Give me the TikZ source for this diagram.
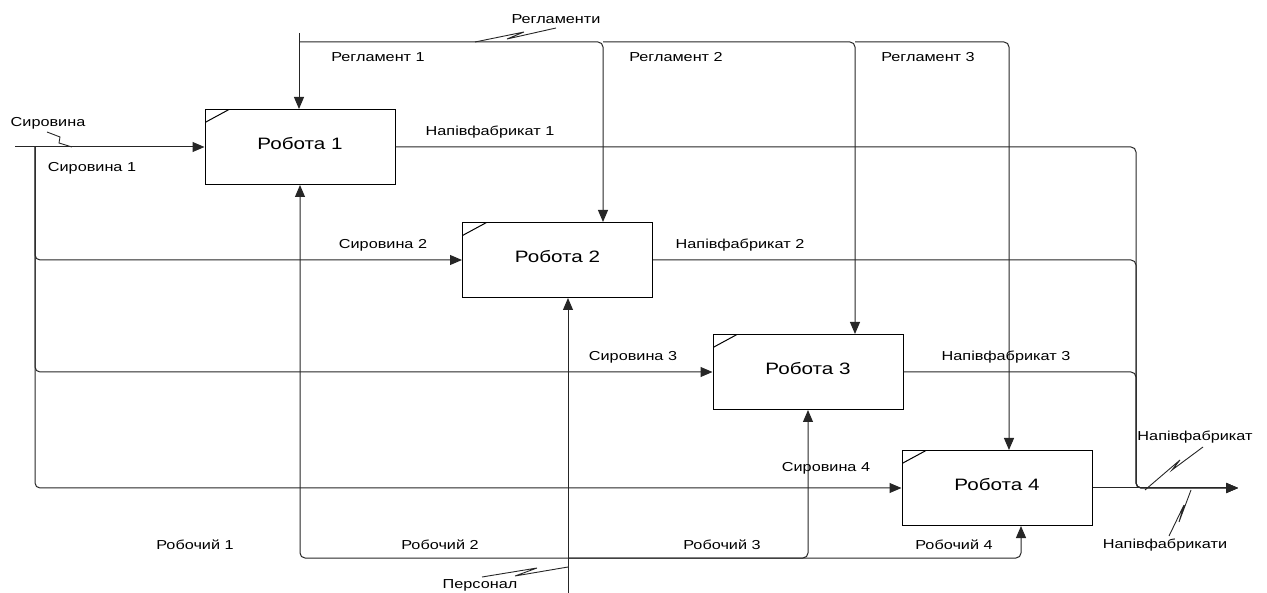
\documentclass[tikz,border=0pt]{standalone}
\usepackage{fontspec}
\setmainfont{Liberation Sans}[FakeStretch=1.25]
\usetikzlibrary{calc, arrows.meta}

\begin{document}
\begin{tikzpicture}[x=1pt, y=-1pt,
  func/.style={draw, line width=1pt, minimum width=190pt, minimum height=75pt, inner sep=0pt,
    font=\fontsize{16.5}{18}\selectfont,
    path picture={\draw ([yshift=-13pt]path picture bounding box.north west) -- ([xshift=24pt]path picture bounding box.north west);}},
  flow/.style={draw=black!85, line width=1pt, rounded corners=5pt},
  arr/.style={flow, -{Triangle[length=12pt, width=10pt]}},
  lbl/.style={font=\fontsize{13}{15}\selectfont},
  tilde/.style={draw=black!85, line width=0.9pt}]

\useasboundingbox (0,0) rectangle (1267,593);

% Functions
\node[func] (b1) at (300,147) {\raisebox{8pt}{Робота 1}};
\node[func] (b2) at (557.5,260) {\raisebox{8pt}{Робота 2}};
\node[func] (b3) at (808,372) {\raisebox{8pt}{Робота 3}};
\node[func] (b4) at (997,488) {\raisebox{8pt}{Робота 4}};

% Junction points
\coordinate (regin) at (299,33);
\coordinate (reg) at (299,42);
\coordinate (c2) at (603,42);
\coordinate (c3) at (855,42);
\coordinate (c4) at (1009,42);
\coordinate (sin) at (15,147);
\coordinate (sbr) at (35,147);
\coordinate (obr) at (1136,488);
\coordinate (oout) at (1238,488);
\coordinate (pin) at (568,593);
\coordinate (m) at (568,558);
\coordinate (m4) at (1021,558);

% Controls
\draw[arr] (regin) -- (regin |- b1.north);
\draw[arr] (reg) -- (c2) -- (c2 |- b2.north);
\draw[arr] (c2) -- (c3) -- (c3 |- b3.north);
\draw[arr] (c3) -- (c4) -- (c4 |- b4.north);

% Inputs
\draw[arr] (sin) -- (sin -| b1.west);
\draw[arr] (sbr) -- (sbr |- b2.west) -- (b2.west);
\draw[arr] (sbr) -- (sbr |- b3.west) -- (b3.west);
\draw[arr] (sbr) -- (sbr |- b4.west) -- (b4.west);

% Outputs
\draw[arr] (b1.east) -- (b1.east -| obr) -- (obr) -- (oout);
\draw[arr] (b2.east) -- (b2.east -| obr) -- (obr) -- (oout);
\draw[arr] (b3.east) -- (b3.east -| obr) -- (obr) -- (oout);
\draw[arr] (b4.east) -- (oout);

% Mechanisms
\draw[arr] (pin) -- (pin |- b2.south);
\draw[arr] (m) -- (m -| b1.south) -- (b1.south);
\draw[arr] (m) -- (m -| b3.south) -- (b3.south);
\draw[arr] (m) -- (m4) -- (m4 |- b4.south);

% Tildes
\coordinate (t1) at (475,42);
\draw[tilde] (t1) -- ++(49,-10) -- ++(-17,7) -- ++(49,-11);
\coordinate (t2) at (72,147);
\draw[tilde] (t2) -- ++(-13,-4) -- ++(1,-6) -- ++(-13,-5);
\coordinate (t3) at (568,567);
\draw[tilde] (t3) -- ++(-53,9) -- ++(22,-8) -- ++(-55,9);
\coordinate (t4) at (1145,490);
\draw[tilde] (t4) -- ++(35,-30) -- ++(-8,10) -- ++(31,-23);
\coordinate (t5) at (1191,490);
\draw[tilde] (t5) -- ++(-12,32) -- ++(5,-17) -- ++(-15,31);

% Labels
\node[lbl] (lreg) at (556,19) {Регламенти};
\node[lbl] (lreg1) at (378,57) {Регламент 1};
\node[lbl] (lreg2) at (676,57) {Регламент 2};
\node[lbl] (lreg3) at (928,57) {Регламент 3};
\node[lbl] (lsir) at (48,123) {Сировина};
\node[lbl] (lsir1) at (92,168) {Сировина 1};
\node[lbl] (lsir2) at (383,245) {Сировина 2};
\node[lbl] (lsir3) at (633,357) {Сировина 3};
\node[lbl] (lsir4) at (826,468) {Сировина 4};
\node[lbl] (lnap1) at (490,132) {Напівфабрикат 1};
\node[lbl] (lnap2) at (740,245) {Напівфабрикат 2};
\node[lbl] (lnap3) at (1006,357) {Напівфабрикат 3};
\node[lbl] (lnap) at (1195,437) {Напівфабрикат};
\node[lbl] (lnaps) at (1165,545) {Напівфабрикати};
\node[lbl] (lrob1) at (195,545) {Робочий 1};
\node[lbl] (lrob2) at (440,545) {Робочий 2};
\node[lbl] (lrob3) at (722,545) {Робочий 3};
\node[lbl] (lrob4) at (954,545) {Робочий 4};
\node[lbl] (lpers) at (480,585.5) {Персонал};

\end{tikzpicture}
\end{document}
